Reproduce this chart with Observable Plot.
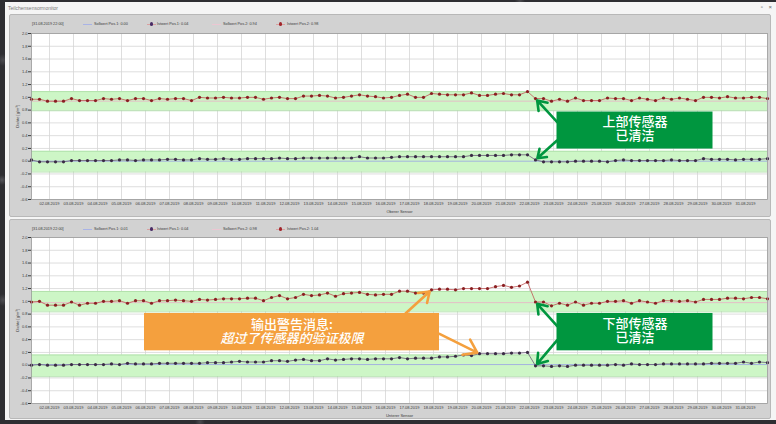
<!DOCTYPE html>
<html>
<head>
<meta charset="utf-8">
<script src="https://cdn.jsdelivr.net/npm/d3@7"></script>
<script src="https://cdn.jsdelivr.net/npm/@observablehq/plot@0.6"></script>
<style>
  html, body { margin: 0; padding: 0; }
  body {
    width: 776px; height: 424px; overflow: hidden; position: relative;
    background:
      radial-gradient(circle at 3px 60px, #4a4a4f 0, transparent 6px),
      radial-gradient(circle at 2px 180px, #55555a 0, transparent 5px),
      radial-gradient(circle at 3px 300px, #4d4d52 0, transparent 6px),
      radial-gradient(circle at 200px 422px, #4a4a4f 0, transparent 5px),
      radial-gradient(circle at 520px 1px, #4a4a4f 0, transparent 5px),
      #2e2e32;
    font-family: "Liberation Sans", Arial, sans-serif;
  }
  #win { position: absolute; left: 5px; top: 2px; width: 771px; height: 418px; background: #f5f5f5; }
  #title { position: absolute; left: 3px; top: 3px; font-size: 5px; color: #7a7a7a; }
  #ctrl { position: absolute; right: 2px; top: 2px; font-size: 6px; color: #666; letter-spacing: 2px; }
  .panel { position: absolute; left: 9px; width: 762px; background: #d2d2d2; border: 1px solid #b8b8b8; border-radius: 2px; box-sizing: border-box; }
  .chart { position: absolute; left: 0; }
  .legend { position: absolute; left: 0; width: 776px; height: 8px; font-size: 3.8px; color: #3a3a3a; }
  .legend span { position: absolute; top: 0; white-space: nowrap; line-height: 6px; }
  .legend i { position: absolute; top: 2.6px; height: 0.9px; width: 9px; }
  .legend b { position: absolute; top: 1.4px; width: 3.2px; height: 3.2px; border-radius: 50%; }
  g[aria-description="warning-text"] tspan:last-child { font-style: italic; }
</style>
</head>
<body>
<div id="win">
  <div id="title">Teilchensensormonitor</div>
  <div id="ctrl">▫ ×</div>
</div>
<div class="panel" style="top:14px;height:203px"></div>
<div class="panel" style="top:219px;height:200px"></div>
<div id="chartTop" class="chart" style="top:14px"></div>
<div id="chartBottom" class="chart" style="top:219px"></div>
<div id="legendTop" class="legend" style="top:21px"></div>
<div id="legendBottom" class="legend" style="top:226px"></div>

<script>
// Readings every 8 hours, 01.08.2019 06:00 to 31.08.2019 22:00 (93 samples)
const startTime = Date.UTC(2019, 7, 1, 6);
const stepMs = 8 * 3600 * 1000;
const sampleCount = 93;
const times = d3.range(sampleCount).map(i => new Date(startTime + i * stepMs));

// Daily grid / tick dates 02.08. … 31.08.
const dayTicks = d3.utcDay.range(new Date(Date.UTC(2019, 7, 2)), new Date(Date.UTC(2019, 8, 1)));
const yTicks = [-0.6, -0.4, -0.2, 0.0, 0.2, 0.4, 0.6, 0.8, 1.0, 1.2, 1.4, 1.6, 1.8, 2.0];

// Oberer Sensor — Istwert Pos.1 (lower trace) and Pos.2 (upper trace), g/m³
const upperPos1 = [
  0.02,-0.01,-0.01,-0.01,-0.01,0.01,0.01,0.01,0.01,0.01,
  0.01,0.02,0.02,0.01,0.02,0.02,0.02,0.03,0.03,0.02,
  0.02,0.04,0.03,0.03,0.04,0.03,0.03,0.04,0.04,0.04,
  0.04,0.05,0.04,0.04,0.05,0.05,0.05,0.05,0.05,0.05,
  0.05,0.07,0.05,0.05,0.05,0.06,0.07,0.07,0.07,0.07,
  0.07,0.07,0.07,0.07,0.07,0.09,0.09,0.09,0.09,0.09,
  0.10,0.10,0.10,
  0.02,-0.01,-0.01,-0.01,-0.01,0.00,0.00,
  0.00,0.00,-0.01,0.01,0.02,0.01,0.01,0.01,0.01,0.01,
  0.02,0.01,0.01,0.01,0.04,0.03,0.03,0.03,0.02,0.03,
  0.03,0.03,0.04
];
const upperPos2 = [
  0.97,0.97,0.94,0.94,0.94,0.98,0.95,0.95,0.95,0.98,
  0.97,0.98,0.95,0.98,0.98,0.95,0.98,0.97,0.98,0.98,
  0.95,1.00,0.99,0.99,1.00,0.99,0.99,1.00,1.00,0.97,
  0.99,1.00,0.98,0.98,1.02,1.02,1.03,1.02,0.99,1.00,
  1.02,1.04,1.02,1.01,0.99,1.00,1.03,1.05,1.00,1.00,
  1.06,1.05,1.04,1.04,1.04,1.07,1.03,1.03,1.05,1.06,
  1.04,1.04,1.09,
  0.98,0.98,0.94,0.97,0.94,0.99,0.95,0.95,0.95,0.99,
  0.98,0.98,0.95,0.99,0.97,0.95,0.99,0.97,0.99,0.97,
  0.95,1.00,1.00,0.99,1.01,0.99,0.99,1.00,1.00,0.98
];

// Unterer Sensor — Istwert Pos.1 and Pos.2, g/m³
const lowerPos1 = [
  0.00,0.01,0.00,0.00,0.00,0.01,0.01,0.01,0.01,0.01,
  0.02,0.01,0.03,0.02,0.02,0.02,0.03,0.03,0.03,0.03,
  0.03,0.03,0.04,0.04,0.04,0.05,0.06,0.05,0.05,0.05,
  0.07,0.07,0.06,0.08,0.09,0.07,0.07,0.10,0.08,0.09,
  0.10,0.10,0.09,0.10,0.10,0.10,0.12,0.10,0.11,0.11,
  0.11,0.13,0.13,0.14,0.16,0.15,0.18,0.18,0.18,0.18,
  0.19,0.19,0.20,
  -0.01,-0.01,-0.02,-0.01,-0.02,0.00,0.00,0.00,0.00,0.00,
  0.01,0.00,0.02,0.01,0.01,0.01,0.02,0.02,0.02,0.02,
  0.02,0.02,0.03,0.03,0.03,0.03,0.05,0.03,0.05,0.04
];
const lowerPos2 = [
  0.99,1.00,0.94,0.94,0.94,0.99,0.94,0.97,0.97,1.00,
  1.00,1.01,0.97,1.01,1.01,0.97,1.01,1.01,1.02,1.01,
  1.00,1.03,1.02,1.03,1.04,1.04,1.04,1.05,1.05,1.01,
  1.06,1.09,1.04,1.06,1.11,1.09,1.10,1.13,1.08,1.12,
  1.13,1.14,1.11,1.10,1.11,1.11,1.16,1.16,1.13,1.13,
  1.18,1.19,1.19,1.18,1.20,1.20,1.20,1.20,1.23,1.25,
  1.22,1.24,1.30,
  0.99,0.99,0.93,0.97,0.94,0.99,0.94,0.97,0.97,1.00,
  1.00,1.01,0.97,1.01,0.99,0.97,1.01,1.01,1.00,1.01,
  0.99,1.03,1.03,1.03,1.05,1.05,1.04,1.06,1.06,1.04
];

// Sollwerte and tolerance bands
const upperSetpoints = [0.00, 0.94];
const lowerSetpoints = [0.01, 0.98];
const upperBands = [{lo: -0.17, hi: 0.155}, {lo: 0.79, hi: 1.09}];
const lowerBands = [{lo: -0.18, hi: 0.16}, {lo: 0.835, hi: 1.155}];

// Index of the first reading after cleaning
const cleanedIndex = 63;

const utc = (d, h, m = 0) => new Date(Date.UTC(2019, 7, d, h, m));

// Callout boxes (time / density coordinates); text is centred at textY
const upperCleanBox = {x1: utc(23, 3, 30), x2: utc(29, 15, 30), y1: 0.19, y2: 0.77, fill: "#00963f",
  text: "上部传感器\n已清洁", textY: 0.513, tag: "clean-text"};
const lowerCleanBox = {x1: utc(23, 3, 30), x2: utc(29, 15, 30), y1: 0.225, y2: 0.81, fill: "#00963f",
  text: "下部传感器\n已清洁", textY: 0.548, tag: "clean-text"};
const warnBox = {x1: utc(5, 23), x2: utc(18, 6), y1: 0.225, y2: 0.81, fill: "#f4a03e",
  text: "输出警告消息:\n超过了传感器的验证极限", textY: 0.525, tag: "warning-text"};

const upperCleanArrows = [
  {x1: upperCleanBox.x1, y1: 0.614, x2: times[cleanedIndex], y2: upperPos2[cleanedIndex]},
  {x1: upperCleanBox.x1, y1: 0.323, x2: times[cleanedIndex], y2: upperPos1[cleanedIndex]}
];
const lowerCleanArrows = [
  {x1: lowerCleanBox.x1, y1: 0.614, x2: times[cleanedIndex], y2: lowerPos2[cleanedIndex]},
  {x1: lowerCleanBox.x1, y1: 0.39, x2: times[cleanedIndex], y2: lowerPos1[cleanedIndex]}
];
const warnArrows = [
  {x1: utc(16, 20), y1: 0.81, x2: times[50], y2: lowerPos2[50]},
  {x1: warnBox.x2, y1: 0.49, x2: times[56], y2: lowerPos1[56]}
];

const fmtTime = d3.utcFormat("%d.%m.%Y %H:%M");
const fmtDay = d3.utcFormat("%d.%m.%Y");

function calloutMarks(box, arrows, stroke) {
  const mid = new Date((+box.x1 + +box.x2) / 2);
  return [
    Plot.rect([box], {x1: "x1", x2: "x2", y1: "y1", y2: "y2", fill: "fill"}),
    Plot.text([box], {
      x: () => mid, y: "textY", text: "text", fill: "white", fontSize: 13, lineHeight: 1.1,
      fontFamily: "Noto Sans CJK SC", fontWeight: 500, ariaDescription: box.tag
    }),
    Plot.arrow(arrows, {x1: "x1", y1: "y1", x2: "x2", y2: "y2", stroke,
      strokeWidth: 2.6, headLength: 9, headAngle: 70, insetEnd: 2.5})
  ];
}

function sensorChart({pos1, pos2, setpoints, bands, xLabel, height, marginTop, marginBottom, callouts}) {
  const rows = times.map((t, i) => ({t, p1: pos1[i], p2: pos2[i]}));
  return Plot.plot({
    width: 776, height, marginTop, marginBottom, marginLeft: 31, marginRight: 9,
    style: {background: "transparent", fontFamily: "Liberation Sans, Arial, sans-serif", fontSize: "4px", color: "#3a3a3a"},
    x: {type: "utc", domain: [times[0], times[times.length - 1]], ticks: dayTicks, tickFormat: fmtDay,
        tickSize: 0, tickPadding: 3, label: xLabel, labelAnchor: "center", labelOffset: 13, labelArrow: false},
    y: {domain: [-0.6, 2.0], ticks: yTicks, tickFormat: d => d.toFixed(1), tickSize: 3, tickPadding: 1,
        label: "Dichte [g/m³]", labelAnchor: "center", labelOffset: 15, labelArrow: false},
    marks: [
      Plot.frame({fill: "white"}),
      Plot.ruleX(dayTicks, {stroke: "#d6d6d6", strokeWidth: 0.8}),
      Plot.ruleY(yTicks, {stroke: "#d6d6d6", strokeWidth: 0.8}),
      Plot.rect(bands, {y1: "lo", y2: "hi", fill: "#cdf6c6"}),
      Plot.ruleY(bands, {y: "lo", stroke: "#a9dca3", strokeWidth: 0.8}),
      Plot.ruleY(bands, {y: "hi", stroke: "#a9dca3", strokeWidth: 0.8}),
      Plot.ruleY([setpoints[0]], {stroke: "#9fabe2", strokeWidth: 0.9}),
      Plot.ruleY([setpoints[1]], {stroke: "#e6b9c6", strokeWidth: 0.9}),
      Plot.line(rows, {x: "t", y: "p2", stroke: "#c05656", strokeWidth: 0.8}),
      Plot.dot(rows, {x: "t", y: "p2", r: 1.6, fill: "#8a1f22"}),
      Plot.line(rows, {x: "t", y: "p1", stroke: "#6a5b78", strokeWidth: 0.8}),
      Plot.dot(rows, {x: "t", y: "p1", r: 1.6, fill: "#3a2b45"}),
      Plot.frame({stroke: "#9a9a9a", strokeWidth: 0.8}),
      ...callouts
    ]
  });
}

document.getElementById("chartTop").append(sensorChart({
  pos1: upperPos1, pos2: upperPos2, setpoints: upperSetpoints, bands: upperBands,
  xLabel: "Oberer Sensor", height: 204, marginTop: 19, marginBottom: 19,
  callouts: calloutMarks(upperCleanBox, upperCleanArrows, "#00963f")
}));

document.getElementById("chartBottom").append(sensorChart({
  pos1: lowerPos1, pos2: lowerPos2, setpoints: lowerSetpoints, bands: lowerBands,
  xLabel: "Unterer Sensor", height: 202, marginTop: 18, marginBottom: 18,
  callouts: [
    ...calloutMarks(warnBox, warnArrows, "#f4a03e"),
    ...calloutMarks(lowerCleanBox, lowerCleanArrows, "#00963f")
  ]
}));

// Second line of the warning callout is set in italics
document.querySelectorAll('g[aria-description="warning-text"] text').forEach(t => {
  const spans = t.querySelectorAll("tspan");
  if (spans.length) spans[spans.length - 1].setAttribute("font-style", "italic");
});

// Legend rows: value readout at the last sample
function legend(el, pos1, pos2, setpoints) {
  const last = times.length - 1;
  const items = [
    {text: `[${fmtTime(times[last])}]`, x: 32},
    {text: `Sollwert Pos.1: ${setpoints[0].toFixed(2)}`, x: 94, sym: "line", color: "#a9b3e6", sx: 83},
    {text: `Istwert Pos.1: ${pos1[last].toFixed(2)}`, x: 157, sym: "dot", color: "#4a2d66", sx: 147},
    {text: `Sollwert Pos.2: ${setpoints[1].toFixed(2)}`, x: 223, sym: "line", color: "#ecc6d2", sx: 212},
    {text: `Istwert Pos.2: ${pos2[last].toFixed(2)}`, x: 287, sym: "dot", color: "#a0262b", sx: 276}
  ];
  for (const it of items) {
    const s = document.createElement("span");
    s.style.left = it.x + "px";
    s.textContent = it.text;
    el.append(s);
    if (it.sym) {
      const line = document.createElement("i");
      line.style.left = it.sx + "px";
      line.style.background = it.sym === "line" ? it.color : "#d9a0a0";
      el.append(line);
      if (it.sym === "dot") {
        const dot = document.createElement("b");
        dot.style.left = (it.sx + 3) + "px";
        dot.style.background = it.color;
        el.append(dot);
      }
    }
  }
}
legend(document.getElementById("legendTop"), upperPos1, upperPos2, upperSetpoints);
legend(document.getElementById("legendBottom"), lowerPos1, lowerPos2, lowerSetpoints);
</script>
</body>
</html>
